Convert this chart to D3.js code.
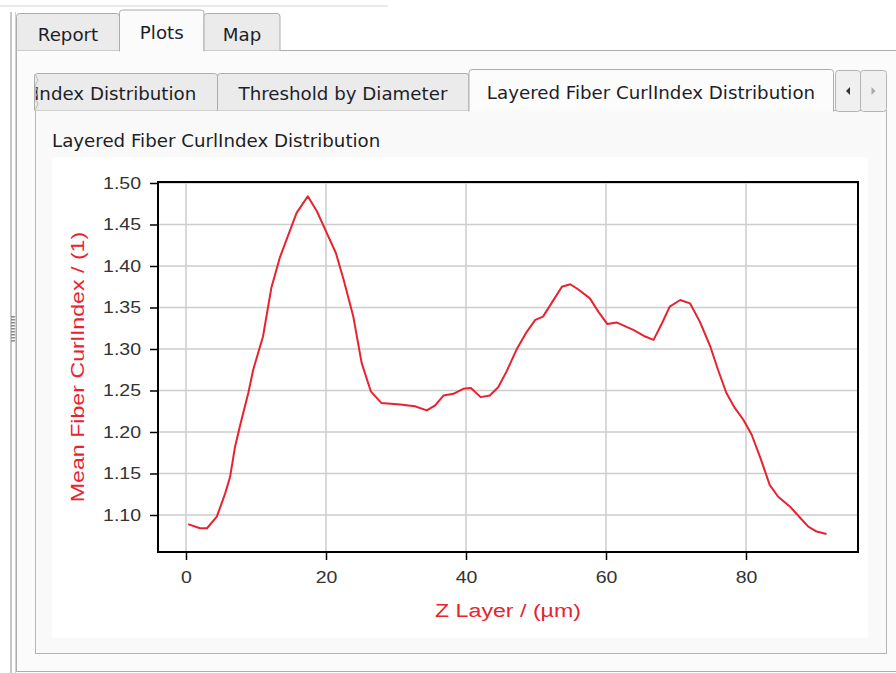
<!DOCTYPE html>
<html><head><meta charset="utf-8">
<script src="https://cdn.jsdelivr.net/npm/d3@7"></script>
<style>html,body{margin:0;padding:0;background:#fff;overflow:hidden}</style>
</head><body>
<svg id="c" width="896" height="673"></svg>
<script>
// ---------- data ----------
const zLayer = [0.3,2.0,3.0,4.4,5.6,6.3,7.0,7.7,8.9,9.6,11.0,12.2,13.4,15.8,17.4,18.7,20.1,21.4,22.5,23.9,25.1,26.4,27.9,30.6,32.7,34.4,35.6,36.8,38.2,39.6,40.7,42.1,43.4,44.6,45.8,47.2,48.7,49.9,51.0,52.2,53.7,54.9,56.0,57.7,58.9,60.2,61.5,63.9,65.6,66.8,68.0,69.1,70.6,72.0,73.4,74.9,76.0,77.2,78.4,79.6,80.8,82.0,83.4,84.6,86.3,87.7,88.9,90.1,91.5];
const curlIndex = [1.089,1.084,1.084,1.098,1.126,1.146,1.182,1.207,1.247,1.275,1.315,1.374,1.410,1.464,1.484,1.466,1.440,1.416,1.384,1.339,1.283,1.249,1.235,1.233,1.231,1.226,1.232,1.244,1.246,1.252,1.253,1.242,1.244,1.254,1.273,1.299,1.321,1.335,1.339,1.355,1.375,1.378,1.372,1.361,1.345,1.330,1.332,1.323,1.315,1.311,1.331,1.351,1.359,1.355,1.333,1.303,1.275,1.247,1.229,1.215,1.197,1.170,1.136,1.122,1.110,1.097,1.086,1.080,1.077];
const xTicks = [0, 20, 40, 60, 80];
const yTicks = [1.10, 1.15, 1.20, 1.25, 1.30, 1.35, 1.40, 1.45, 1.50];
const chartTitle = "Layered Fiber CurlIndex Distribution";
const xLabel = "Z Layer / (µm)";
const yLabel = "Mean Fiber CurlIndex / (1)";
const outerTabs = ["Report", "Plots", "Map"];
const innerTabs = ["Index Distribution", "Threshold by Diameter", "Layered Fiber CurlIndex Distribution"];

// ---------- drawing ----------
const svg = d3.select("#c");
const uiFont = "'DejaVu Sans', sans-serif";
const plotFont = "'Liberation Sans', Arial, sans-serif";
const RED = "#e8222f";

// measure UI font size so "Threshold by Diameter" spans ~209px
const probe = svg.append("text").attr("font-family", uiFont).attr("font-size", 20).text(innerTabs[1]);
const uiSize = 20 * 209 / probe.node().getComputedTextLength();
probe.remove();

// window chrome
svg.append("rect").attr("x", 0).attr("y", 0).attr("width", 896).attr("height", 673).attr("fill", "#ffffff");
svg.append("line").attr("x1", 0).attr("x2", 388).attr("y1", 6).attr("y2", 6).attr("stroke", "#e2e2e2").attr("stroke-width", 1.5);
svg.append("line").attr("x1", 11).attr("x2", 11).attr("y1", 12).attr("y2", 673).attr("stroke", "#b4b4b4").attr("stroke-width", 1.5);
svg.append("line").attr("x1", 15.5).attr("x2", 15.5).attr("y1", 12).attr("y2", 673).attr("stroke", "#d0d0d0").attr("stroke-width", 1);
svg.selectAll("rect.grip").data(d3.range(9)).join("rect").attr("class", "grip")
  .attr("x", 11).attr("y", d => 316 + d * 3).attr("width", 4).attr("height", 1.5).attr("fill", "#8a8a8a");

// outer pane
svg.append("rect").attr("x", 16.5).attr("y", 50.5).attr("width", 900).attr("height", 621)
  .attr("fill", "#fbfbfb").attr("stroke", "#adadad");

// outer tabs
const outerGeom = [{x0: 16.5, x1: 119.5, top: 13.5, sel: false}, {x0: 119.5, x1: 204, top: 10, sel: true}, {x0: 204, x1: 280, top: 13.5, sel: false}];
outerGeom.forEach((g, i) => {
  const bottom = g.sel ? 51.5 : 50.5;
  svg.append("path")
    .attr("d", `M${g.x0},${bottom} L${g.x0},${g.top + 3} Q${g.x0},${g.top} ${g.x0 + 3},${g.top} L${g.x1 - 3},${g.top} Q${g.x1},${g.top} ${g.x1},${g.top + 3} L${g.x1},${bottom}`)
    .attr("fill", g.sel ? "#fbfbfb" : "#ebebeb").attr("stroke", "#adadad");
  svg.append("text").attr("x", (g.x0 + g.x1) / 2).attr("y", g.sel ? 39 : 41)
    .attr("text-anchor", "middle").attr("font-family", uiFont).attr("font-size", uiSize)
    .attr("fill", "#1e1e28").text(outerTabs[i]);
});

// inner pane
svg.append("rect").attr("x", 35.5).attr("y", 110.5).attr("width", 851).attr("height", 543)
  .attr("fill", "#f9f9f9").attr("stroke", "#b4b4b4");
// chart area
svg.append("rect").attr("x", 52).attr("y", 157).attr("width", 816).attr("height", 481).attr("fill", "#ffffff");

// inner tabs
svg.append("defs").append("clipPath").attr("id", "tabclip")
  .append("rect").attr("x", 35).attr("y", 60).attr("width", 183).attr("height", 60);
const innerGeom = [{x0: 34.5, x1: 217.5, top: 73.5, sel: false, tx: 34, anchor: "start"},
                   {x0: 217.5, x1: 469, top: 73.5, sel: false, tx: 343, anchor: "middle"},
                   {x0: 469, x1: 833.5, top: 69.5, sel: true, tx: 651, anchor: "middle"}];
innerGeom.forEach((g, i) => {
  const bottom = g.sel ? 111.5 : 110.5;
  svg.append("path")
    .attr("d", `M${g.x0},${bottom} L${g.x0},${g.top + 3} Q${g.x0},${g.top} ${g.x0 + 3},${g.top} L${g.x1 - 3},${g.top} Q${g.x1},${g.top} ${g.x1},${g.top + 3} L${g.x1},${bottom}`)
    .attr("fill", g.sel ? "#fcfcfc" : "#ebebeb").attr("stroke", "#adadad");
  const t = svg.append("text").attr("x", g.tx).attr("y", g.sel ? 98.5 : 100)
    .attr("text-anchor", g.anchor).attr("font-family", uiFont).attr("font-size", uiSize)
    .attr("fill", "#1e1e28").text(innerTabs[i]);
  if (i === 0) t.attr("clip-path", "url(#tabclip)");
});
// torn edge on first tab
svg.append("path").attr("d", "M35,74 L38,80 L35,86 L38,92 L35,98 L38,104 L35,110")
  .attr("fill", "none").attr("stroke", "#b8b8b8");
// scroll buttons
[[835.5, 860.5, "#333"], [860.5, 886.5, "#aaa"]].forEach(([a, b, c], i) => {
  svg.append("rect").attr("x", a).attr("y", 70.5).attr("width", b - a).attr("height", 41).attr("rx", 3)
    .attr("fill", "#f0f0f0").attr("stroke", "#b4b4b4");
  const cx = (a + b) / 2, cy = 91;
  svg.append("path").attr("d", i === 0 ? `M${cx + 2},${cy - 4} L${cx - 2},${cy} L${cx + 2},${cy + 4} Z` : `M${cx - 2},${cy - 4} L${cx + 2},${cy} L${cx - 2},${cy + 4} Z`)
    .attr("fill", c);
});

// title
svg.append("text").attr("x", 52).attr("y", 147).attr("font-family", uiFont).attr("font-size", uiSize)
  .attr("fill", "#1e1e1e").text(chartTitle);

// ---------- plot ----------
const L = 158, R = 858, T = 182, B = 552;
const x = d3.scaleLinear().domain([-4, 96]).range([L, R]);
const y = d3.scaleLinear().domain([1.0554, 1.5012]).range([B, T]);
const SX = 1.22;

const grid = svg.append("g");
grid.selectAll("line.v").data(xTicks).join("line").attr("class", "v")
  .attr("x1", d => x(d)).attr("x2", d => x(d)).attr("y1", T).attr("y2", B)
  .attr("stroke", "#cdcdcd").attr("stroke-width", 1.5);
grid.selectAll("line.h").data(yTicks).join("line").attr("class", "h")
  .attr("x1", L).attr("x2", R).attr("y1", d => y(d)).attr("y2", d => y(d))
  .attr("stroke", "#cdcdcd").attr("stroke-width", 1.5);

const yAxis = svg.append("g").attr("transform", `translate(${L},0)`)
  .call(d3.axisLeft(y).tickValues(yTicks).tickFormat(d3.format(".2f")).tickSize(8).tickPadding(9));
yAxis.select(".domain").remove();
yAxis.selectAll(".tick line").attr("stroke", "#000").attr("stroke-width", 1.5);
yAxis.selectAll(".tick text").attr("font-family", plotFont).attr("font-size", 16).attr("fill", "#333")
  .attr("x", -17 / SX).attr("transform", `scale(${SX},1)`);

const xAxis = svg.append("g").attr("transform", `translate(0,${B})`)
  .call(d3.axisBottom(x).tickValues(xTicks).tickSize(8).tickPadding(12));
xAxis.select(".domain").remove();
xAxis.selectAll(".tick line").attr("stroke", "#000").attr("stroke-width", 1.5);
xAxis.selectAll(".tick text").attr("font-family", plotFont).attr("font-size", 16).attr("fill", "#333")
  .attr("transform", `scale(${SX},1)`);

// frame
svg.append("rect").attr("x", L).attr("y", T).attr("width", R - L).attr("height", B - T)
  .attr("fill", "none").attr("stroke", "#000").attr("stroke-width", 2);

// line
const pts = zLayer.map((z, i) => [z, curlIndex[i]]);
svg.append("path").datum(pts)
  .attr("d", d3.line().x(d => x(d[0])).y(d => y(d[1])))
  .attr("fill", "none").attr("stroke", RED).attr("stroke-width", 2).attr("stroke-linejoin", "round");

// axis titles
svg.append("text").attr("transform", `translate(${(L + R) / 2},617) scale(${SX},1)`)
  .attr("text-anchor", "middle").attr("font-family", plotFont).attr("font-size", 19)
  .attr("fill", RED).text(xLabel);
svg.append("text").attr("transform", `translate(84,${(T + B) / 2}) rotate(-90) scale(${SX},1)`)
  .attr("text-anchor", "middle").attr("font-family", plotFont).attr("font-size", 19)
  .attr("fill", RED).text(yLabel);
</script>
</body></html>
